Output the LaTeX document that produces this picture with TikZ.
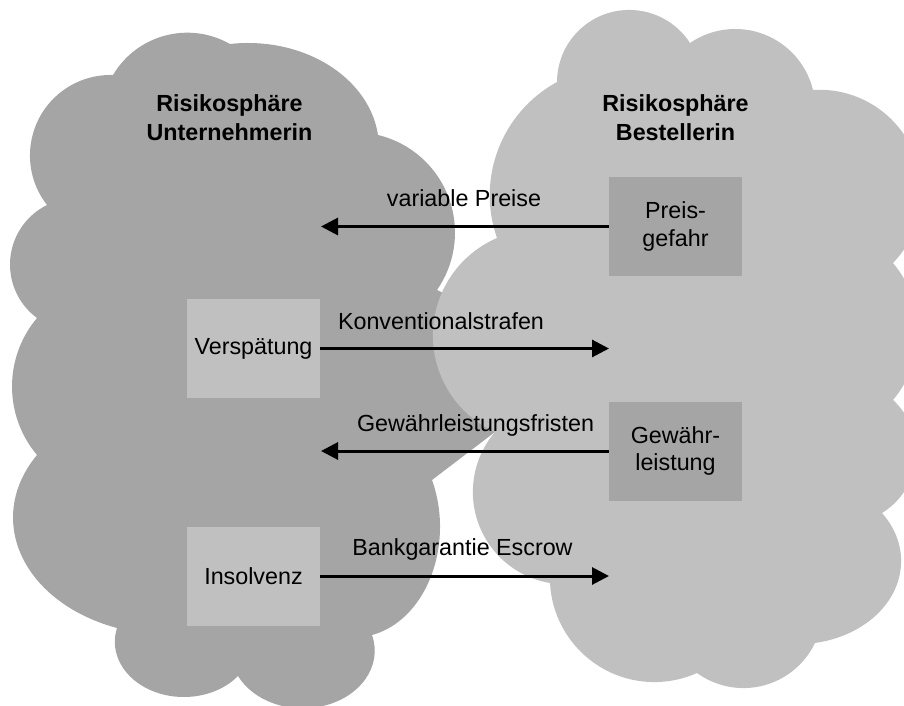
\documentclass[tikz,border=0pt]{standalone}
\usepackage{fontspec}
\setmainfont{Liberation Sans}
\usepackage{xfp}
\usetikzlibrary{arrows.meta}
\definecolor{cloudDark}{HTML}{A5A5A5}
\definecolor{cloudLight}{HTML}{C0C0C0}

% A cloud lobe is an elliptical arc from the current point A through M to B
% (pixel coordinates, y downwards); k stretches the arc vertically.
\def\clmx{(\clxm-\clxa)}
\def\clmy{((\clym-\clya)/\clk)}
\def\clbx{(\clxb-\clxa)}
\def\clby{((\clyb-\clya)/\clk)}
\def\clden{(2*(\clmx*\clby-\clmy*\clbx))}
\def\clmm{(\clmx^2+\clmy^2)}
\def\clbb{(\clbx^2+\clby^2)}
\def\clux{((\clby*\clmm-\clmy*\clbb)/\clden)}
\def\cluy{((\clmx*\clbb-\clbx*\clmm)/\clden)}
\def\clr{(sqrt(\clux^2+\cluy^2))}
\def\cltA{(atand(-\cluy,-\clux))}
\def\cltM{(atand(\clmy-\cluy,\clmx-\clux))}
\def\cltB{(atand(\clby-\cluy,\clbx-\clux))}
\def\cldB{(\cltB-\cltA-360*floor((\cltB-\cltA)/360))}
\def\cldM{(\cltM-\cltA-360*floor((\cltM-\cltA)/360))}
\def\cldelta{(\cldM<\cldB ? \cldB : \cldB-360)}

\tikzset{
  lobe/.style n args={7}{
    /utils/exec={\gdef\clxa{#1}\gdef\clya{#2}\gdef\clxm{#3}\gdef\clym{#4}%
                 \gdef\clxb{#5}\gdef\clyb{#6}\gdef\clk{#7}},
    insert path={arc[x radius={\fpeval{round(\clr,4)}pt},
                     y radius={\fpeval{round(\clk*\clr,4)}pt},
                     start angle={\fpeval{round(-\cltA,4)}},
                     delta angle={\fpeval{round(-\cldelta,4)}}]}
  }
}

\begin{document}
\begin{tikzpicture}[x=1pt, y=-1pt,
  txt/.style={font=\fontsize{23.3}{27.3}\selectfont, inner sep=0pt},
  title/.style={inner sep=0pt, font=\fontsize{23.3}{29}\selectfont\bfseries, align=center},
  riskbox/.style={txt, align=center, minimum width=133pt, minimum height=99pt},
  lowbox/.style={riskbox, fill=cloudLight},
  highbox/.style={riskbox, fill=cloudDark},
  flow/.style={line width=3pt, -{Triangle[length=17pt,width=17pt]}},
  lbl/.style={txt, anchor=base}
]
\useasboundingbox (0,0) rectangle (904,706);

% the two risk spheres as clouds
\begin{scope}
\clip (0,0) rectangle (904,706);
\fill[cloudDark] (113,75)
  [lobe={113}{75}{180}{33}{230}{44}{1}]
  [lobe={230}{44}{330}{66}{378}{135}{0.8}]
  [lobe={378}{135}{455}{233}{437}{290}{1}]
  -- (520,330) -- (520,410) -- (495,432) -- (432,480)
  [lobe={432}{480}{440}{525}{372}{635}{1.3}]
  [lobe={372}{635}{340}{700}{238}{676}{0.8}]
  [lobe={238}{676}{185}{697}{117}{628}{0.8}]
  [lobe={117}{628}{13}{517}{37}{455}{0.75}]
  [lobe={37}{455}{12}{386}{37}{318}{1}]
  [lobe={37}{318}{10}{265}{47}{205}{1}]
  [lobe={47}{205}{30}{158}{113}{75}{1}]
  -- cycle;
\fill[cloudLight] (557,82)
  [lobe={557}{82}{617}{11}{690}{43}{1}]
  [lobe={690}{43}{737}{29}{813}{90}{1}]
  [lobe={813}{90}{890}{118}{893}{263}{1}]
  [lobe={893}{263}{918}{330}{893}{400}{1}]
  [lobe={893}{400}{916}{455}{882}{513}{1}]
  [lobe={882}{513}{901}{557}{815}{643}{0.8}]
  [lobe={815}{643}{747}{688}{697}{673}{1}]
  [lobe={697}{673}{650}{682}{550}{583}{1}]
  [lobe={550}{583}{473}{487}{495}{432}{1}]
  [lobe={495}{432}{433}{330}{497}{238}{1}]
  [lobe={497}{238}{490}{187}{557}{82}{1}]
  -- cycle;
\end{scope}

% titles of the two spheres
\node[title] (titleLeft) at (229.5,118) {Risikosphäre\\Unternehmerin};
\node[title] (titleRight) at (675.5,118) {Risikosphäre\\Bestellerin};

% risk boxes
\node[lowbox] (delay) at (253.5,348.5) {Verspätung};
\node[lowbox] (insolvency) at (253.5,576) {Insolvenz};
\node[highbox] (price) at (675.5,226.5) {Preis-\\gefahr};
\node[highbox] (warranty) at (675.5,451) {Gewähr-\\leistung};

% free ends of the transfer arrows
\coordinate (priceEnd) at (321,226.5);
\coordinate (delayEnd) at (609,348.5);
\coordinate (warrantyEnd) at (321,451);
\coordinate (insolvencyEnd) at (609,576);

\draw[flow] (price.west) -- (priceEnd);
\draw[flow] (delay.east) -- (delayEnd);
\draw[flow] (warranty.west) -- (warrantyEnd);
\draw[flow] (insolvency.east) -- (insolvencyEnd);

% arrow labels
\node[lbl] (lblPrice) at (464,206.5) {variable Preise};
\node[lbl] (lblDelay) at (441,329.5) {Konventionalstrafen};
\node[lbl] (lblWarranty) at (475.5,431.5) {Gewährleistungsfristen};
\node[lbl] (lblInsolvency) at (462.5,555.5) {Bankgarantie Escrow};
\end{tikzpicture}
\end{document}
